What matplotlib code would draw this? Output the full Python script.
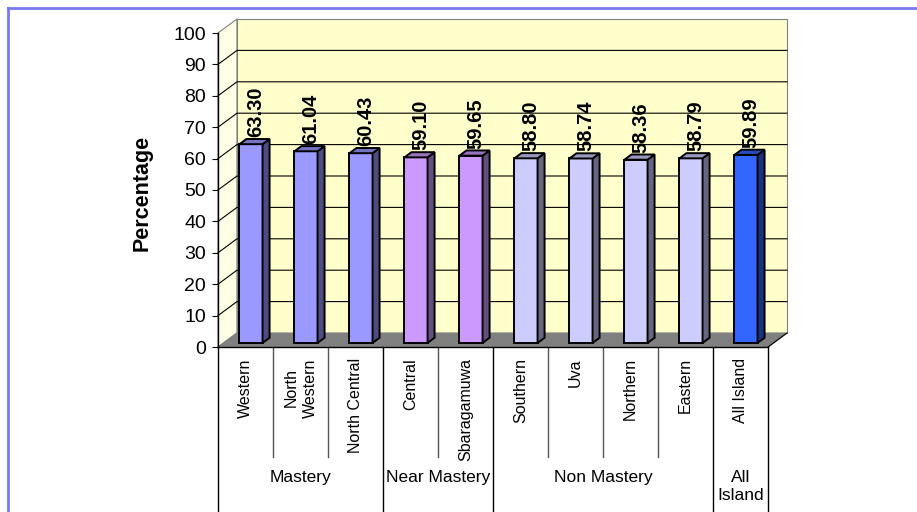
import matplotlib
matplotlib.use("Agg")
import matplotlib.pyplot as plt
from matplotlib.patches import Polygon
from matplotlib.lines import Line2D

plt.rcParams["font.family"] = "Liberation Sans"

# regional scores
regions = ["Western", "North\nWestern", "North Central", "Central", "Sbaragamuwa",
           "Southern", "Uva", "Northern", "Eastern", "All Island"]
values = [63.30, 61.04, 60.43, 59.10, 59.65, 58.80, 58.74, 58.36, 58.79, 59.89]
groups = ["Mastery", "Near Mastery", "Non Mastery", "All\nIsland"]
group_sizes = [3, 2, 4, 1]
yticks = list(range(0, 101, 10))

# front / side / top colours per group
group_colors = [
    ("#9999FF", "#4D4D80", "#7373BF"),
    ("#CC99FF", "#664D80", "#9973BF"),
    ("#CCCCFF", "#666680", "#9999BF"),
    ("#3366FF", "#1A3380", "#264DBF"),
]

# depth of the 3d box in data units
DX = 0.345
DY = 4.46
bar_w = 0.42
d_front, d_back = 0.29, 0.66

fig = plt.figure(figsize=(9.17, 5.12), dpi=100)
ax = fig.add_axes([218 / 917, 165 / 512, 550 / 917, 314 / 512])
ax.set_xlim(0, len(values))
ax.set_ylim(0, 100)
ax.patch.set_visible(False)

n = len(values)

def poly(pts, fc, ec, lw=0.8, z=1):
    ax.add_patch(Polygon(pts, closed=True, facecolor=fc, edgecolor=ec,
                         linewidth=lw, zorder=z, clip_on=False))

# walls and floor
poly([(0, 0), (0, 100), (DX, 100 + DY), (DX, DY)], "#FFFFE6", "#808080", z=0.5)
poly([(DX, DY), (DX, 100 + DY), (n + DX, 100 + DY), (n + DX, DY)], "#FFFFCC", "#808080", z=0.5)
poly([(0, 0), (n, 0), (n + DX, DY), (DX, DY)], "#808080", "#808080", z=0.6)
ax.plot([n, n + DX], [0, DY], color="black", lw=0.8, clip_on=False, zorder=0.7)

# gridlines on side and back walls
for v in yticks[1:-1]:
    ax.plot([0, DX, n + DX], [v, v + DY, v + DY], color="black", lw=0.8,
            clip_on=False, zorder=0.8)

# bars
colors = []
for gi, size in enumerate(group_sizes):
    colors += [group_colors[gi]] * size

for i, v in enumerate(values):
    front, side, top = colors[i]
    cx = i + 0.5 + d_front * DX
    x0, x1 = cx - bar_w / 2, cx + bar_w / 2
    y0 = d_front * DY
    ddx = (d_back - d_front) * DX
    ddy = (d_back - d_front) * DY
    poly([(x0, y0), (x1, y0), (x1, y0 + v), (x0, y0 + v)], front, "black", lw=1.4, z=3)
    poly([(x1, y0), (x1 + ddx, y0 + ddy), (x1 + ddx, y0 + ddy + v), (x1, y0 + v)],
         side, "black", lw=1.4, z=3)
    poly([(x0, y0 + v), (x1, y0 + v), (x1 + ddx, y0 + ddy + v), (x0 + ddx, y0 + ddy + v)],
         top, "black", lw=1.4, z=3)
    ax.text(cx + ddx / 2 + 0.03, y0 + ddy + v + 0.6, f"{v:.2f}", rotation=90,
            ha="center", va="bottom", fontsize=14.5, fontweight="bold", zorder=4)

# axes styling
ax.set_xticks([])
ax.set_yticks(yticks)
ax.tick_params(axis="y", length=4.5, width=0.8, pad=4, labelsize=14)
for s in ["top", "right"]:
    ax.spines[s].set_visible(False)
ax.spines["left"].set_linewidth(1.0)
ax.spines["bottom"].set_linewidth(1.0)
ax.spines["left"].set_zorder(5)
ax.text(-0.138, 0.49, "Percentage", transform=ax.transAxes, rotation=90,
        ha="center", va="center", fontsize=15.5, fontweight="bold")

# two-level category labels
xt = ax.get_xaxis_transform()
for i, name in enumerate(regions):
    ax.text(i + 0.5, -0.036, name, transform=xt, rotation=90, ha="center", va="top",
            fontsize=11.5, multialignment="center", linespacing=1.35)

bounds = [0]
for size in group_sizes:
    bounds.append(bounds[-1] + size)

for k in range(n + 1):
    if k in bounds:
        ax.plot([k, k], [0, -0.53], transform=xt, color="black", lw=1.0, clip_on=False)
    else:
        ax.plot([k, k], [0, -0.350], transform=xt, color="#555555", lw=1.0, clip_on=False)

for gi, name in enumerate(groups):
    mid = (bounds[gi] + bounds[gi + 1]) / 2
    ax.text(mid, -0.392, name, transform=xt, ha="center", va="top", fontsize=12.5,
            linespacing=1.25)

# outer frame lines
fig.add_artist(Line2D([8 / 917, 1], [1 - 8 / 512, 1 - 8 / 512], color="#7878F0", lw=2))
fig.add_artist(Line2D([8 / 917, 8 / 917], [0, 1 - 8 / 512], color="#7878F0", lw=2))

fig.savefig("out.png", dpi=100)
